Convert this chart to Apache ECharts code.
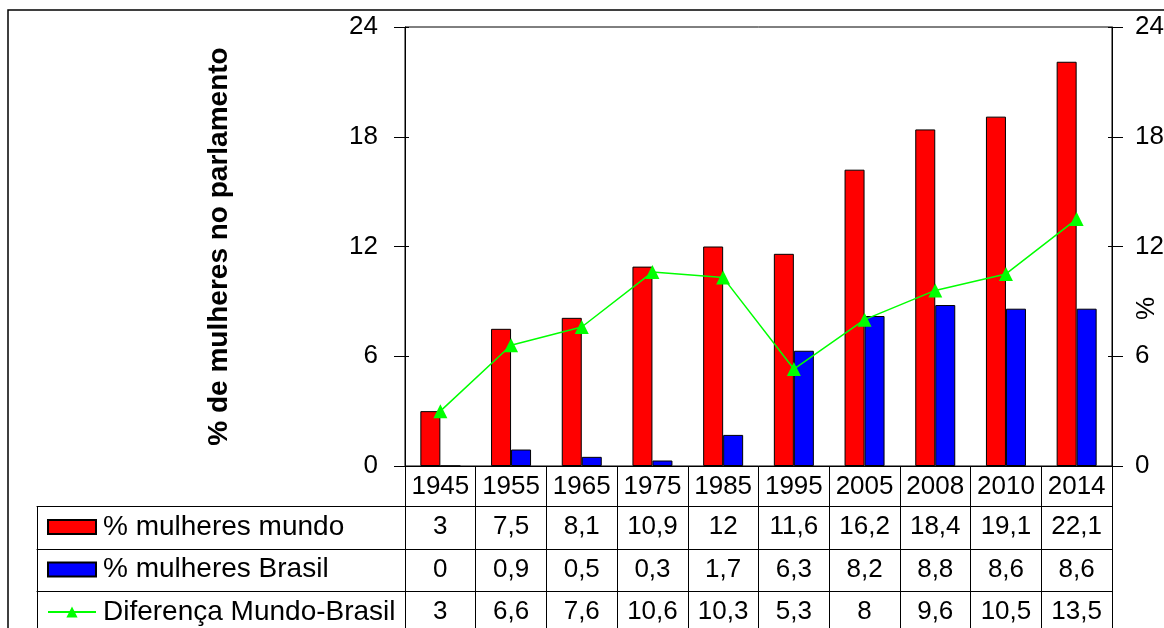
<!DOCTYPE html>
<html>
<head>
<meta charset="utf-8">
<script src="https://cdn.jsdelivr.net/npm/echarts@6/dist/echarts.min.js"></script>
<style>
html,body{margin:0;padding:0;background:#fff;}
#chart{width:1164px;height:628px;}
</style>
</head>
<body>
<div id="chart"></div>
<script>
var years = ['1945','1955','1965','1975','1985','1995','2005','2008','2010','2014'];
var mundo = [3, 7.5, 8.1, 10.9, 12, 11.6, 16.2, 18.4, 19.1, 22.1];
var brasil = [0, 0.9, 0.5, 0.3, 1.7, 6.3, 8.2, 8.8, 8.6, 8.6];
var diferenca = [3, 6.6, 7.6, 10.6, 10.3, 5.3, 8, 9.6, 10.5, 13.5];
var seriesNames = ['% mulheres mundo', '% mulheres Brasil', 'Diferença Mundo-Brasil'];
var yAxisTitle = '% de mulheres no parlamento';
var yAxisTitleRight = '%';

function fmt(v){ return String(v).replace('.', ','); }

var FONT = 'Liberation Sans, Arial, sans-serif';
var chart = echarts.init(document.getElementById('chart'), null, {renderer:'canvas'});

function tableAxis(data, offset, tickLen, grid){
  return {
    type:'category', gridIndex: grid, position:'bottom', offset: offset,
    data: data, boundaryGap:true,
    axisLine:{show:true, onZero:false, lineStyle:{color:'#000', width:1}},
    axisTick:{show:true, length:tickLen, interval:0, lineStyle:{color:'#000', width:1}},
    axisLabel:{show: grid===0, interval:0, color:'#000', fontSize:26, fontFamily:FONT, verticalAlign:'middle', margin:21},
    splitLine:{show:false}
  };
}

var option = {
  animation:false,
  backgroundColor:'#fff',
  textStyle:{fontFamily:FONT},
  graphic:[{
    type:'rect', shape:{x:8, y:10, width:1400, height:900},
    style:{fill:'none', stroke:'#000', lineWidth:1.5}, silent:true
  }],
  legend:{
    orient:'vertical', left:47, top:513, padding:0,
    itemWidth:48, itemHeight:14, itemGap:14.5,
    textStyle:{color:'#000', fontSize:28, fontFamily:FONT, lineHeight:28, padding:[0,0,0,2]},
    data: [
      {name:seriesNames[0], icon:'rect'},
      {name:seriesNames[1], icon:'rect'},
      {name:seriesNames[2]}
    ]
  },
  grid:[
    {left:405, right:52, top:27, bottom:162, show:true, borderColor:'#000', borderWidth:1, backgroundColor:'transparent', outerBoundsMode:'none', containLabel:false},
    {left:37, right:759, top:27, bottom:162, show:false, outerBoundsMode:'none', containLabel:false}
  ],
  xAxis:[
    tableAxis(years, 0, 40, 0),
    tableAxis(mundo.map(fmt), 40, 43, 0),
    tableAxis(brasil.map(fmt), 83, 42, 0),
    tableAxis(diferenca.map(fmt), 125, 60, 0),
    tableAxis([''], 40, 43, 1),
    tableAxis([''], 83, 42, 1),
    tableAxis([''], 125, 60, 1)
  ],
  yAxis:[
    {type:'value', gridIndex:0, position:'left', min:0, max:24, interval:6,
     name: yAxisTitle, nameLocation:'middle', nameRotate:90, nameGap:172, nameMoveOverlap:false,
     nameTextStyle:{color:'#000', fontSize:28, fontWeight:'bold', fontFamily:FONT},
     axisLine:{show:true, onZero:false, lineStyle:{color:'#000', width:1}},
     axisTick:{show:true, length:11, lineStyle:{color:'#000'}},
     axisLabel:{color:'#000', fontSize:26, fontFamily:FONT, margin:27},
     splitLine:{show:false}},
    {type:'value', gridIndex:0, position:'right', min:0, max:24, interval:6,
     name: yAxisTitleRight, nameLocation:'middle', nameRotate:90, nameGap:22, nameMoveOverlap:false,
     nameTextStyle:{color:'#000', fontSize:26, fontFamily:FONT, padding:[0,124,0,0]},
     axisLine:{show:true, onZero:false, lineStyle:{color:'#000', width:1}},
     axisTick:{show:true, length:11, lineStyle:{color:'#000'}},
     axisLabel:{color:'#000', fontSize:26, fontFamily:FONT, margin:23},
     splitLine:{show:false}},
    {type:'value', gridIndex:0, position:'left', min:0, max:24, interval:6,
     axisLine:{show:false}, axisLabel:{show:false}, splitLine:{show:false},
     axisTick:{show:true, inside:true, length:4, lineStyle:{color:'#000'}}},
    {type:'value', gridIndex:0, position:'right', min:0, max:24, interval:6,
     axisLine:{show:false}, axisLabel:{show:false}, splitLine:{show:false},
     axisTick:{show:true, inside:true, length:4, lineStyle:{color:'#000'}}},
    {type:'value', gridIndex:1, show:false}
  ],
  series:[
    {name:seriesNames[0], type:'bar', xAxisIndex:0, yAxisIndex:0, data:mundo,
     barWidth:20, barGap:'0%',
     itemStyle:{color:'#FF0000', borderColor:'#000', borderWidth:1}},
    {name:seriesNames[1], type:'bar', xAxisIndex:0, yAxisIndex:0, data:brasil,
     barWidth:20, barGap:'0%',
     itemStyle:{color:'#0000FF', borderColor:'#000', borderWidth:1}},
    {name:seriesNames[2], type:'line', xAxisIndex:0, yAxisIndex:1, data:diferenca,
     symbol:'triangle', symbolSize:14, showSymbol:true,
     lineStyle:{color:'#00FF00', width:1.5},
     itemStyle:{color:'#00FF00'}, z:5}
  ]
};
chart.setOption(option);
</script>
</body>
</html>
